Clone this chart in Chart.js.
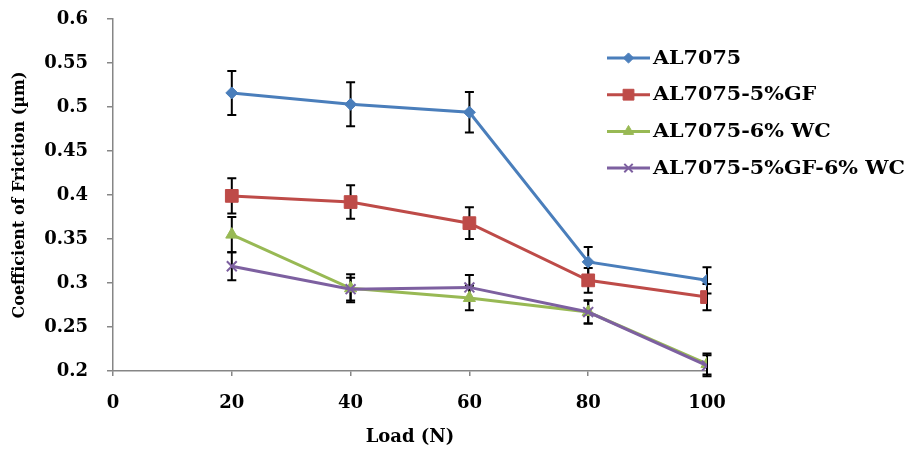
<!DOCTYPE html>
<html><head><meta charset="utf-8">
<script src="https://cdn.jsdelivr.net/npm/chart.js@4/dist/chart.umd.min.js"></script>
<style>html,body{margin:0;padding:0;background:#fff}#wrap{width:907px;height:450px}</style>
</head><body><div id="wrap"><canvas id="c" width="907" height="450"></canvas></div>
<script>
// ---- data ----
const loads = [20, 40, 60, 80, 100];
const seriesNames = ['AL7075', 'AL7075-5%GF', 'AL7075-6% WC', 'AL7075-5%GF-6% WC'];
const al7075      = [0.516, 0.503, 0.494, 0.324, 0.303];
const al7075Err   = [0.025, 0.025, 0.023, 0.017, 0.015];
const al7075GF    = [0.399, 0.392, 0.368, 0.303, 0.284];
const al7075GFErr = [0.020, 0.019, 0.018, 0.014, 0.015];
const al7075WC    = [0.355, 0.294, 0.283, 0.267, 0.208];
const al7075WCErr = [0.020, 0.016, 0.014, 0.013, 0.012];
const al7075Hyb   = [0.319, 0.293, 0.295, 0.267, 0.206];
const al7075HybErr= [0.016, 0.013, 0.014, 0.013, 0.012];
const xTickLabels = ['0', '20', '40', '60', '80', '100'];
const yTickLabels = ['0.2', '0.25', '0.3', '0.35', '0.4', '0.45', '0.5', '0.55', '0.6'];
const xTitle = 'Load (N)';
const yTitle = 'Coefficient of Friction (µm)';

// ---- styles ----
const colors = ['#4A7EBB', '#BE4B48', '#98B954', '#7D60A0'];
const styles = ['rectRot', 'rect', 'triangle', 'crossRot'];
const radii = [6, 9, 7, 7];
const values = [al7075, al7075GF, al7075WC, al7075Hyb];
const errors = [al7075Err, al7075GFErr, al7075WCErr, al7075HybErr];

Chart.defaults.font.family = 'DejaVu Serif';
Chart.defaults.font.weight = 'bold';
Chart.defaults.font.size = 18;
Chart.defaults.color = '#000';

const datasets = values.map((vals, i) => ({
  label: seriesNames[i],
  data: vals.map((v, j) => ({x: loads[j], y: v})),
  borderColor: colors[i],
  backgroundColor: colors[i],
  pointBorderColor: colors[i],
  pointBackgroundColor: colors[i],
  pointStyle: styles[i],
  pointRadius: radii[i],
  pointBorderWidth: i === 3 ? 2 : 1,
  borderWidth: 3,
  tension: 0,
  order: 3 - i
}));

const errorBars = {
  id: 'errorBars',
  beforeDatasetsDraw(chart) {
    const ctx = chart.ctx, xs = chart.scales.x, ys = chart.scales.y;
    ctx.save();
    ctx.strokeStyle = '#000';
    ctx.lineWidth = 2;
    values.forEach((vals, i) => {
      vals.forEach((v, j) => {
        const x = xs.getPixelForValue(loads[j]);
        const yt = ys.getPixelForValue(v + errors[i][j]);
        const yb = ys.getPixelForValue(v - errors[i][j]);
        ctx.beginPath();
        ctx.moveTo(x, yt); ctx.lineTo(x, yb);
        ctx.moveTo(x - 4.5, yt); ctx.lineTo(x + 4.5, yt);
        ctx.moveTo(x - 4.5, yb); ctx.lineTo(x + 4.5, yb);
        ctx.stroke();
      });
    });
    ctx.restore();
  }
};

const customLegend = {
  id: 'customLegend',
  afterDraw(chart) {
    const ctx = chart.ctx;
    const x0 = 607, y0 = 58, step = 36.7;
    ctx.save();
    chart.data.datasets.forEach((ds, i) => {
      const y = y0 + i * step;
      ctx.strokeStyle = ds.borderColor;
      ctx.lineWidth = 3;
      ctx.beginPath(); ctx.moveTo(x0, y); ctx.lineTo(x0 + 43, y); ctx.stroke();
      ctx.fillStyle = ds.pointBackgroundColor;
      ctx.strokeStyle = ds.pointBorderColor;
      ctx.lineWidth = ds.pointBorderWidth;
      Chart.helpers.drawPoint(ctx, {pointStyle: ds.pointStyle, radius: ds.pointRadius * 0.85, rotation: 0, borderWidth: ds.pointBorderWidth}, x0 + 21.5, y);
      ctx.fillStyle = '#000';
      ctx.font = 'bold 18px "DejaVu Serif"';
      ctx.textBaseline = 'middle';
      ctx.textAlign = 'left';
      ctx.save();
      ctx.translate(x0 + 46, y + 1);
      ctx.scale(1.15, 1);
      ctx.fillText(ds.label, 0, 0);
      ctx.restore();
    });
    ctx.restore();
  }
};

new Chart(document.getElementById('c'), {
  type: 'line',
  data: {datasets},
  plugins: [errorBars, customLegend],
  options: {
    responsive: false,
    animation: false,
    layout: {padding: {top: 19, right: 200, left: 0, bottom: 0}},
    plugins: {legend: {display: false}, tooltip: {enabled: false}},
    scales: {
      x: {
        type: 'linear', min: 0, max: 100,
        afterFit(s) { s.height = 79; s.paddingLeft = 0; s.paddingRight = 0; },
        afterBuildTicks(s) { s.ticks = xTickLabels.map(t => ({value: Number(t)})); },
        ticks: {padding: 17, callback: (v) => xTickLabels.find(t => Number(t) === v) ?? ''},
        grid: {display: true, drawOnChartArea: false, tickLength: 5, color: '#868686', lineWidth: 1.5},
        border: {color: '#868686', width: 1.5},
        title: {display: true, text: xTitle, font: {size: 18}, padding: {top: 0, bottom: 2}}
      },
      y: {
        type: 'linear', min: 0.2, max: 0.6,
        afterFit(s) { s.width = 113; s.paddingTop = 0; s.paddingBottom = 0; },
        afterBuildTicks(s) { s.ticks = yTickLabels.map(t => ({value: Number(t)})); },
        ticks: {padding: 19, callback: (v) => yTickLabels.find(t => Math.abs(Number(t) - v) < 1e-9) ?? ''},
        grid: {display: true, drawOnChartArea: false, tickLength: 6, color: '#868686', lineWidth: 1.5},
        border: {color: '#868686', width: 1.5},
        title: {display: true, text: yTitle, font: {size: 16}, padding: {top: 10, bottom: 0}}
      }
    }
  }
});
</script></body></html>
